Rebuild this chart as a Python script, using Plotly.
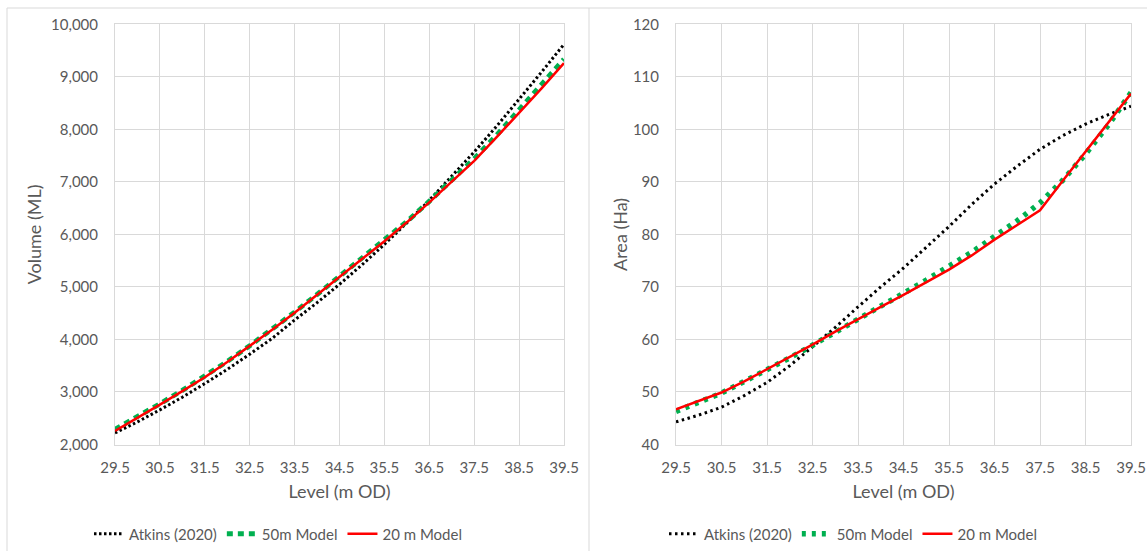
import plotly.graph_objects as go

# Water level (m OD), common to both panels
levels = [29.5, 30.0, 30.5, 31.0, 31.5, 32.0, 32.5, 33.0, 33.5, 34.0, 34.5,
          35.0, 35.5, 36.0, 36.5, 37.0, 37.5, 38.0, 38.5, 39.0, 39.5]

# Storage volume (ML)
vol_atkins = [2220, 2430, 2660, 2900, 3160, 3430, 3720, 4020, 4370, 4700, 5050,
              5420, 5810, 6220, 6650, 7100, 7570, 8060, 8570, 9090, 9620]
vol_50m = [2290, 2520, 2775, 3030, 3295, 3580, 3880, 4195, 4520, 4855, 5200,
           5540, 5880, 6245, 6630, 7025, 7440, 7890, 8360, 8840, 9335]
vol_20m = [2260, 2505, 2760, 3015, 3280, 3570, 3870, 4185, 4510, 4845, 5190,
           5530, 5870, 6230, 6610, 7000, 7400, 7850, 8310, 8780, 9260]

# Surface area (Ha)
area_atkins = [44.3, 45.6, 47.1, 49.3, 51.8, 55.0, 58.6, 62.3, 66.2, 70.0, 73.6,
               77.6, 81.5, 85.7, 89.6, 93.0, 96.2, 98.8, 101.0, 102.8, 104.4]
area_50m = [46.3, 48.0, 49.8, 52.0, 54.2, 56.5, 58.9, 61.3, 63.8, 66.3, 68.8,
            71.3, 73.8, 76.6, 79.6, 82.6, 86.0, 90.3, 95.3, 100.8, 107.0]
area_20m = [46.7, 48.3, 49.9, 52.0, 54.3, 56.7, 59.0, 61.5, 63.9, 66.2, 68.5,
            70.9, 73.3, 76.0, 79.0, 81.8, 84.6, 90.2, 95.7, 101.2, 106.8]

series_names = ["Atkins (2020)", "50m Model", "20 m Model"]
x_ticks = [29.5, 30.5, 31.5, 32.5, 33.5, 34.5, 35.5, 36.5, 37.5, 38.5, 39.5]
x_ticktext = [f"{v:.1f}" for v in x_ticks]

W, H = 1147, 551
FONT = "Lato"
GREY_TXT = "#595959"
GRID = "#d9d9d9"
GREEN = "#00b050"
RED = "#ff0000"


def px_x(p):
    return p / W


def px_y(p):
    return 1 - p / H


fig = go.Figure()

# Left panel: volume
fig.add_trace(go.Scatter(x=levels, y=vol_atkins, name=series_names[0], mode="lines",
                         line=dict(color="black", width=3, dash="2.5px,2.5px"),
                         xaxis="x", yaxis="y", legend="legend"))
fig.add_trace(go.Scatter(x=levels, y=vol_50m, name=series_names[1], mode="lines",
                         line=dict(color=GREEN, width=5, dash="6px,5px"),
                         xaxis="x", yaxis="y", legend="legend"))
fig.add_trace(go.Scatter(x=levels, y=vol_20m, name=series_names[2], mode="lines",
                         line=dict(color=RED, width=2.5),
                         xaxis="x", yaxis="y", legend="legend"))

# Right panel: area
fig.add_trace(go.Scatter(x=levels, y=area_atkins, name=series_names[0], mode="lines",
                         line=dict(color="black", width=3, dash="2.5px,3.5px"),
                         xaxis="x2", yaxis="y2", legend="legend2"))
fig.add_trace(go.Scatter(x=levels, y=area_50m, name=series_names[1], mode="lines",
                         line=dict(color=GREEN, width=5.5, dash="4px,6px"),
                         xaxis="x2", yaxis="y2", legend="legend2"))
fig.add_trace(go.Scatter(x=levels, y=area_20m, name=series_names[2], mode="lines",
                         line=dict(color=RED, width=2.5),
                         xaxis="x2", yaxis="y2", legend="legend2"))

tickfont = dict(family=FONT, size=15, color=GREY_TXT)
titlefont = dict(family=FONT, size=18, color=GREY_TXT)
legendfont = dict(family=FONT, size=15, color=GREY_TXT)

x_common = dict(range=[29.5, 39.5], tickvals=x_ticks, ticktext=x_ticktext,
                showgrid=True, gridcolor=GRID, gridwidth=1, zeroline=False,
                showline=True, linecolor=GRID, linewidth=1, mirror=True,
                ticks="", ticklabelstandoff=9, tickfont=tickfont, automargin=False,
                title=dict(text="Level (m OD)", font=titlefont, standoff=10))

y_common = dict(showgrid=True, gridcolor=GRID, gridwidth=1, zeroline=False,
                showline=True, linecolor=GRID, linewidth=1, mirror=True,
                ticks="", ticklabelstandoff=13, tickfont=tickfont, automargin=False)

y_top, y_bot = 24.3, 444.5

fig.update_layout(
    width=W, height=H,
    margin=dict(l=0, r=0, t=0, b=0, autoexpand=False),
    paper_bgcolor="white", plot_bgcolor="white",
    font=dict(family=FONT, color=GREY_TXT),
    xaxis=dict(domain=[px_x(115), px_x(564)], anchor="y", **x_common),
    yaxis=dict(domain=[px_y(y_bot), px_y(y_top)], anchor="x", range=[2000, 10000],
               dtick=1000, tickformat=",",
               title=dict(text="Volume (ML)", font=titlefont, standoff=4),
               **y_common),
    xaxis2=dict(domain=[px_x(676), px_x(1131)], anchor="y2", **x_common),
    yaxis2=dict(domain=[px_y(y_bot), px_y(y_top)], anchor="x2", range=[40, 120],
                dtick=10,
                title=dict(text="Area (Ha)", font=titlefont, standoff=0),
                **y_common),
    legend=dict(orientation="h", x=px_x(89), y=px_y(534), xanchor="left", yanchor="middle",
                font=legendfont, bgcolor="rgba(0,0,0,0)", itemwidth=30),
    legend2=dict(orientation="h", x=px_x(664), y=px_y(534), xanchor="left", yanchor="middle",
                 font=legendfont, bgcolor="rgba(0,0,0,0)", itemwidth=30),
    showlegend=True,
)

# Chart-area frames
border = dict(color=GRID, width=1)
fig.add_shape(type="line", xref="paper", yref="paper",
              x0=px_x(7), x1=1, y0=px_y(8), y1=px_y(8), line=border)
fig.add_shape(type="line", xref="paper", yref="paper",
              x0=px_x(7), x1=px_x(7), y0=px_y(8), y1=0, line=border)
fig.add_shape(type="line", xref="paper", yref="paper",
              x0=px_x(589), x1=px_x(589), y0=px_y(8), y1=0, line=border)

fig.write_html("out.html")
